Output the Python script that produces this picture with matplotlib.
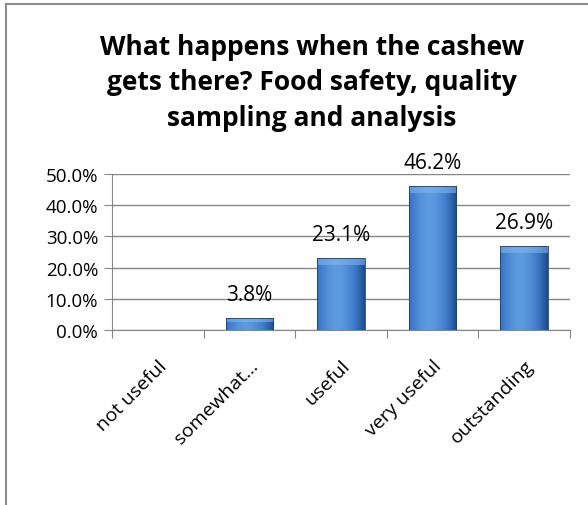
import matplotlib
matplotlib.use("Agg")
import matplotlib.pyplot as plt
import numpy as np
from matplotlib.patches import Rectangle
from matplotlib.colors import LinearSegmentedColormap

categories = ["not useful", "somewhat...", "useful", "very useful", "outstanding"]
values = [0.0, 3.8, 23.1, 46.2, 26.9]
yticks = [0, 10, 20, 30, 40, 50]
title = "What happens when the cashew\ngets there? Food safety, quality\nsampling and analysis"

plt.rcParams['font.family'] = ['Open Sans', 'DejaVu Sans']

fig = plt.figure(figsize=(5.88, 5.06), dpi=100)
W, H = 588, 506
ax = fig.add_axes([112/W, 1 - 331/H, (570-112)/W, (331-175)/H])

x = np.arange(len(categories))
bars = ax.bar(x, values, width=0.52, color='#3b74c0', zorder=3)

# gradient shading on each bar
grad = np.linspace(0, 1, 200)
prof = 1 - np.abs((grad - 0.42) / 0.58) ** 1.6
cmap = LinearSegmentedColormap.from_list('b', ['#1d4a85', '#3c78c6', '#5d9be0'])
img = cmap(prof)[None, :, :]
for b in bars:
    h = b.get_height()
    if h <= 0:
        continue
    x0 = b.get_x(); w = b.get_width()
    im = ax.imshow(img, extent=[x0, x0 + w, 0, h], aspect='auto', zorder=4, interpolation='bilinear')
    im.set_clip_path(b)
    b.set_edgecolor('#1c4278'); b.set_linewidth(0.6); b.set_zorder(5); b.set_facecolor('none')
    bev = min(2.2, h * 0.3)
    ax.add_patch(Rectangle((x0, h - bev), w, bev, facecolor='#86b9f0', edgecolor='none', alpha=0.55, zorder=4.5))
    ax.annotate(f"{h:.1f}%", (x0 + w / 2, h), xytext=(0, 13), textcoords='offset points',
                ha='center', va='baseline', fontsize=15, color='black', zorder=6,
                annotation_clip=False)

ax.set_xlim(-0.5, len(categories) - 0.5)
ax.set_ylim(0, 50)
ax.set_yticks(yticks)
ax.set_yticklabels([f"{v:.1f}%" for v in yticks], fontsize=13.5)
ax.yaxis.grid(True, color='#868686', linewidth=1, zorder=0)
ax.set_axisbelow(True)
for s in ['top', 'right']:
    ax.spines[s].set_visible(False)
for s in ['left', 'bottom']:
    ax.spines[s].set_color('#868686')
ax.tick_params(axis='y', length=6, color='#868686', pad=4)
ax.set_xticks(np.arange(-0.5, len(categories) + 0.5, 1))
ax.set_xticklabels([])
ax.tick_params(axis='x', length=6, color='#868686', direction='out')
ax.set_xticks(x, minor=True)
ax.set_xticklabels(categories, minor=True, rotation=45, ha='right', va='top',
                   rotation_mode='anchor', fontsize=14)
ax.tick_params(axis='x', which='minor', length=0, pad=19)

fig.text(312/W, 1 - 83/H, title, ha='center', va='center', fontsize=19, fontweight='bold',
         linespacing=1.4)

fig.add_artist(plt.Line2D([5.5/W, 5.5/W], [0, 1 - 4.5/H], color='#8c8c8c', linewidth=1.5, transform=fig.transFigure))
fig.add_artist(plt.Line2D([5.5/W, 1], [1 - 4.5/H, 1 - 4.5/H], color='#8c8c8c', linewidth=1.5, transform=fig.transFigure))

fig.savefig("out.png", dpi=100, facecolor='white')
